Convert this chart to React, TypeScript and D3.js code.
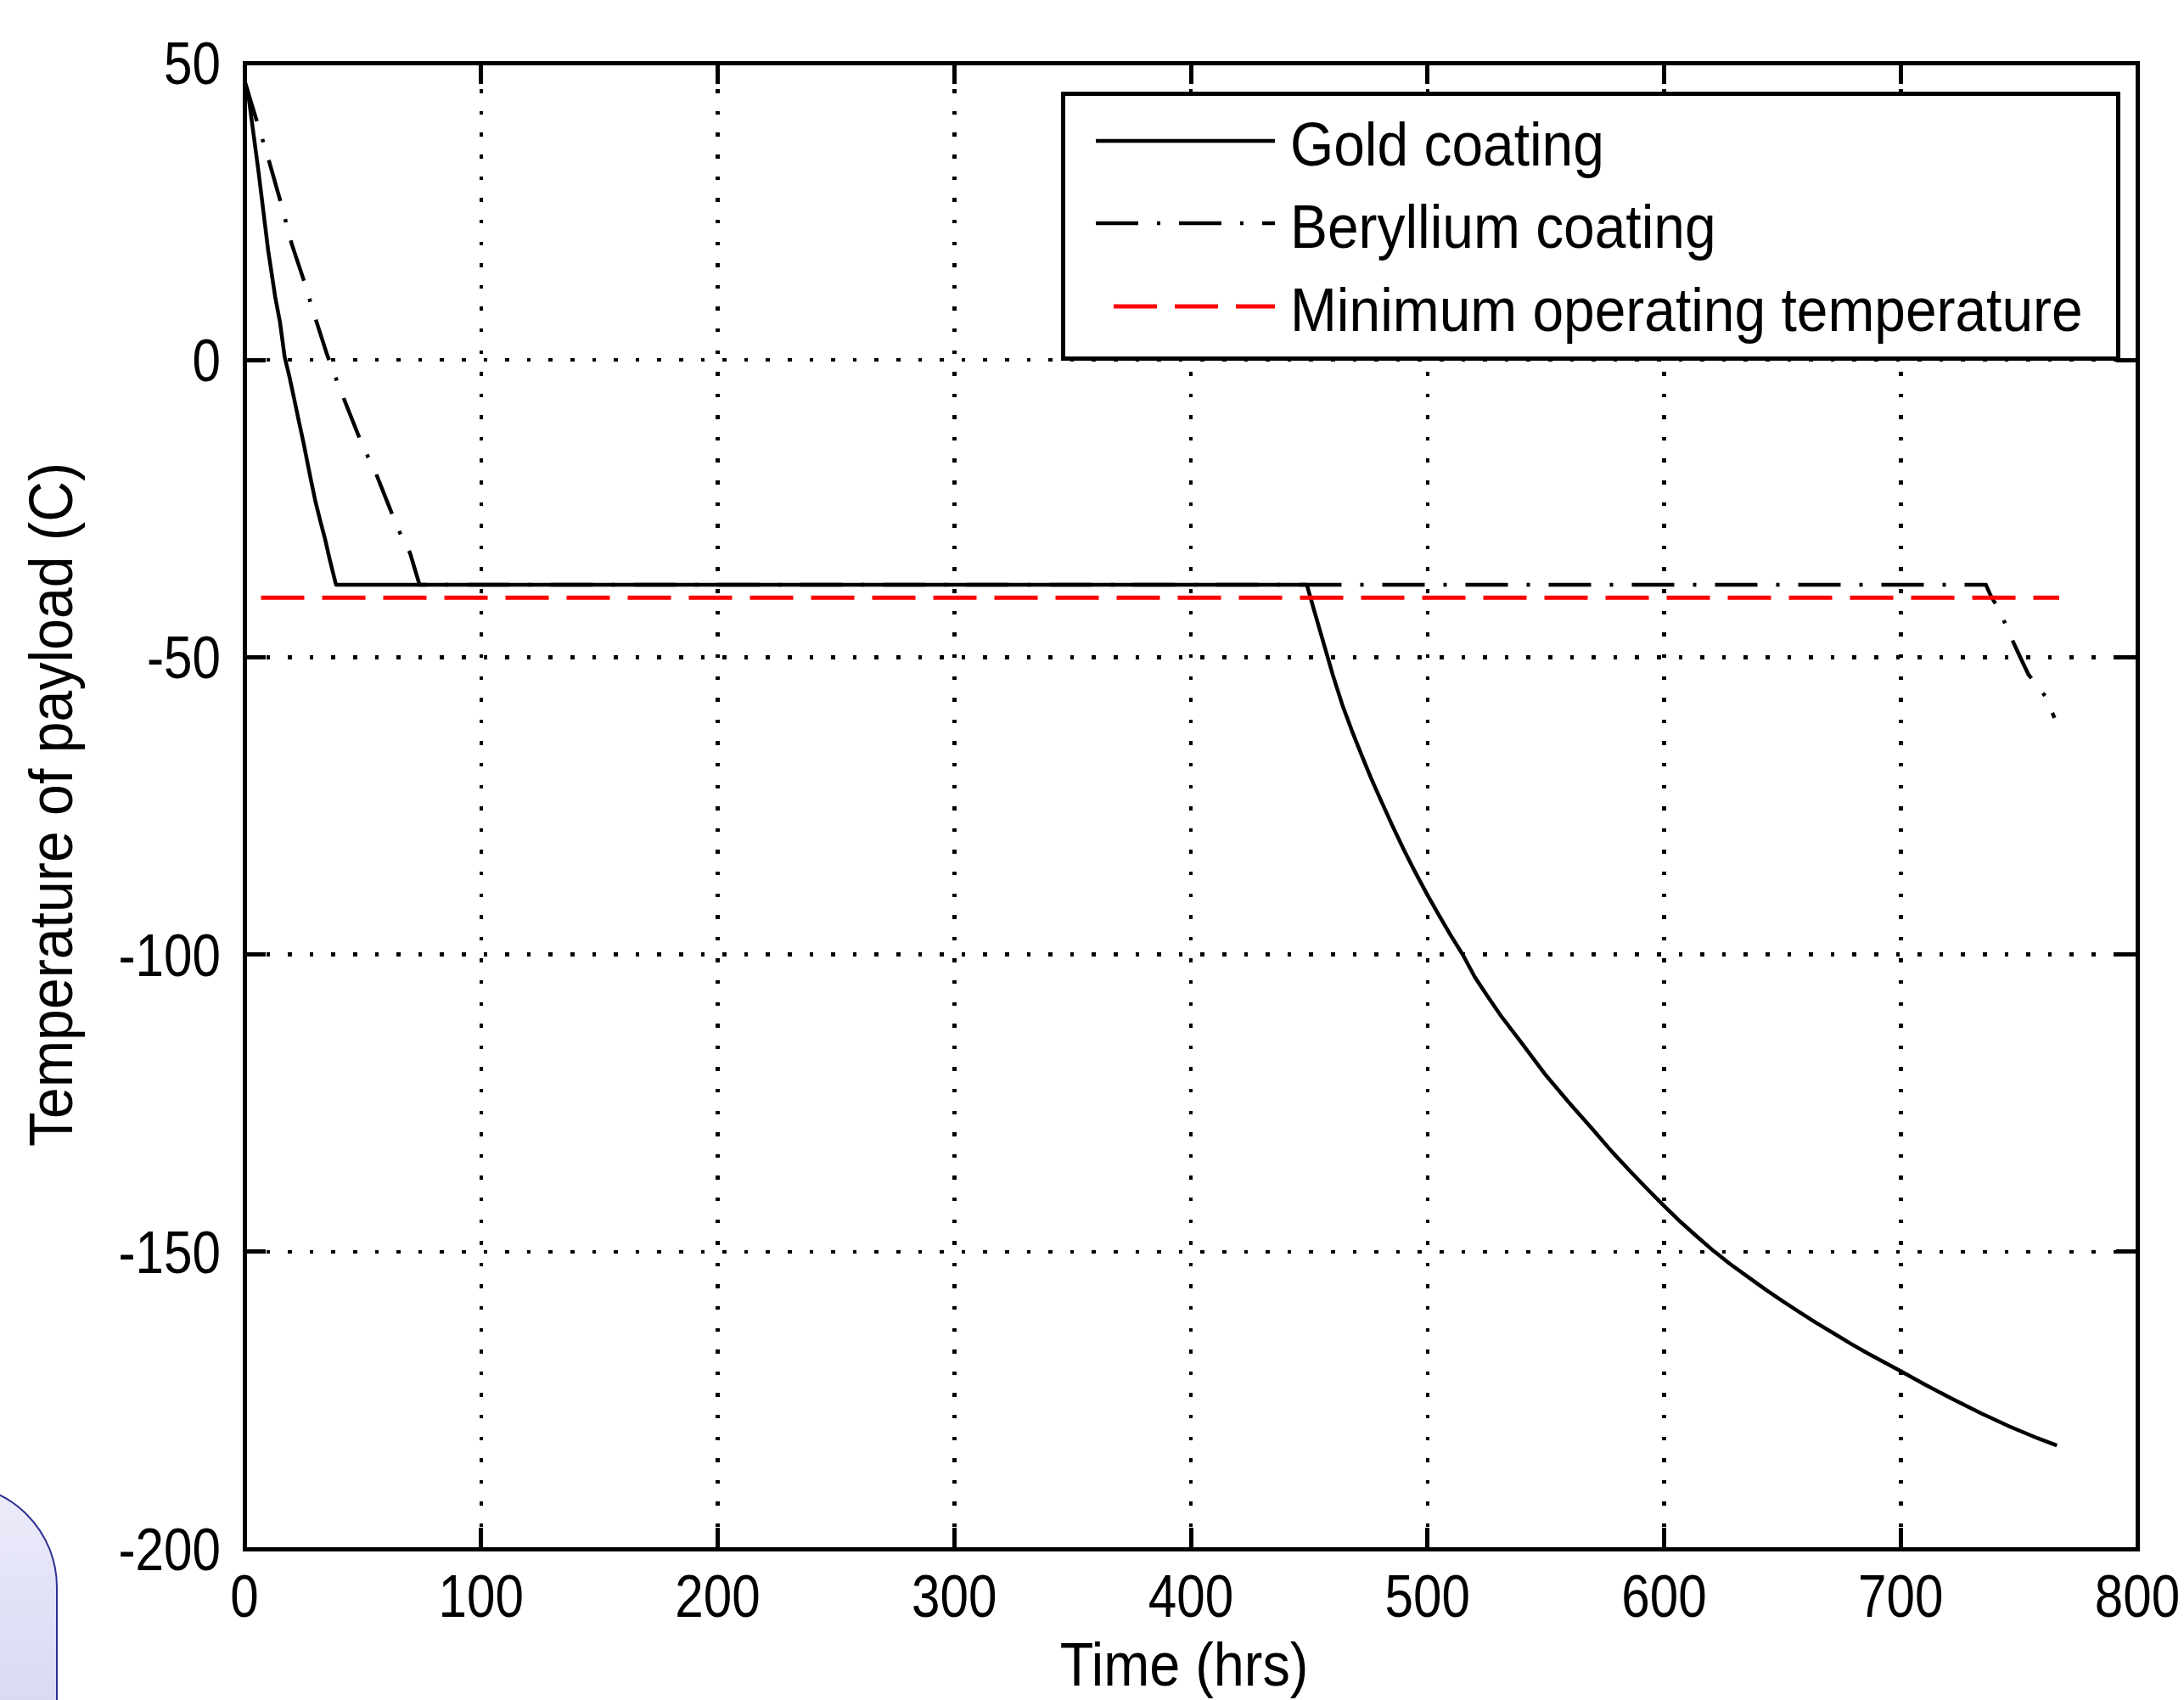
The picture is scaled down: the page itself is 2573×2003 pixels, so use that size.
import * as d3 from "d3";

// Time (hrs) / temperature (C)
const goldTime = [0, 1.5, 4, 6, 8, 10, 13, 15, 17, 19, 21, 23, 25, 28, 30, 32, 34, 36, 38.7,
  449, 452, 456, 460, 464, 468, 472, 476, 480, 485, 490, 495, 500, 505, 510, 515, 520, 525, 531,
  540, 550, 560, 570, 578, 586, 593, 600, 607, 614, 621, 628, 636, 643, 650, 657, 664, 672, 679,
  686, 693, 700, 710, 722, 734, 746, 758, 766];
const goldTemp = [47, 45, 37.5, 31.5, 25, 18.5, 10.6, 6.4, 0.5, -2.8, -6.5, -10.3, -14, -20, -23.8,
  -27, -30, -33.5, -37.8,
  -37.8, -42, -47.5, -53, -58, -62.3, -66.3, -70.2, -73.8, -78.2, -82.4, -86.3, -90, -93.5, -96.9,
  -100.1, -103.8, -106.8, -110.3, -115, -120.3, -125, -129.5, -133.2, -136.6, -139.5, -142.3,
  -145, -147.5, -149.9, -152.1, -154.4, -156.4, -158.3, -160.1, -161.9, -163.8, -165.5, -167.1,
  -168.6, -170.1, -172.3, -174.8, -177.2, -179.4, -181.4, -182.6];

const berylTime = [0, 5, 10, 15, 20, 25, 30, 35, 40, 45, 50, 55, 60, 65, 70, 74,
  736, 738, 742, 746, 751, 754, 761, 765];
const berylTemp = [47, 40.5, 34, 27, 19.5, 13.5, 7, 0.8, -4.5, -9.5, -14.5, -18.5, -23.5, -28.5,
  -32.5, -37.8, -37.8, -39.6, -42.3, -46.1, -50.4, -52.9, -56.5, -60.2];

const minTime = [7, 767];
const minTemp = [-40, -40];

const xTicks = [0, 100, 200, 300, 400, 500, 600, 700, 800];
const yTicks = [-200, -150, -100, -50, 0, 50];

const legendLabels = ["Gold coating", "Beryllium coating", "Minimum operating temperature"];

const FONT = '"Liberation Sans", Arial, sans-serif';

export default function App() {
  const x = d3.scaleLinear().domain([0, 800]).range([288, 2518]);
  const y = d3.scaleLinear().domain([-200, 50]).range([1825, 74]);

  const line = d3.line<[number, number]>()
    .x((d) => x(d[0]))
    .y((d) => y(d[1]));

  const gold = line(goldTime.map((t, i) => [t, goldTemp[i]]));
  const beryl = line(berylTime.map((t, i) => [t, berylTemp[i]]));
  const minLine = line(minTime.map((t, i) => [t, minTemp[i]]));

  const [x0, x1] = x.range();
  const [y0, y1] = y.range(); // y0 bottom, y1 top
  const tickLen = 25;

  const legendRows = [166, 263, 361];
  const styles = [
    { stroke: "#000", dash: "none" },
    { stroke: "#000", dash: "50 22 4 22" },
    { stroke: "#ff0000", dash: "51 21" },
  ];

  return (
    <svg width={2573} height={2003} style={{ position: "absolute", left: 0, top: 0, background: "#fff" }}>
      <defs>
        <linearGradient id="deco" x1="0" y1="0" x2="0" y2="1">
          <stop offset="0" stopColor="#ececfa" />
          <stop offset="1" stopColor="#cfcff1" />
        </linearGradient>
      </defs>
      <rect x={0} y={0} width={2573} height={2003} fill="#fff" />

      {/* slide decoration, bottom left */}
      <rect x={-300} y={1749} width={367} height={400} rx={121} ry={121}
        fill="url(#deco)" stroke="#2e3192" strokeWidth={2} />

      {/* grid */}
      <g stroke="#000" strokeWidth={4.5} strokeDasharray="4.5 21.1" shapeRendering="crispEdges">
        {xTicks.slice(1, -1).map((t) => (
          <line key={"gx" + t} x1={x(t)} x2={x(t)} y1={y0} y2={y1} />
        ))}
        {yTicks.slice(1, -1).map((t) => (
          <line key={"gy" + t} x1={x0} x2={x1} y1={y(t)} y2={y(t)} />
        ))}
      </g>

      {/* series */}
      <path d={gold ?? ""} fill="none" stroke="#000" strokeWidth={4.5} strokeLinejoin="round" />
      <path d={beryl ?? ""} fill="none" stroke="#000" strokeWidth={4.5} strokeDasharray="50 22 4 22" />
      <path d={minLine ?? ""} fill="none" stroke="#ff0000" strokeWidth={5} strokeDasharray="51 21" />

      {/* legend */}
      <rect x={1252} y={110} width={1243} height={312} fill="#fff" stroke="#000" strokeWidth={5}
        shapeRendering="crispEdges" />
      {legendLabels.map((lab, i) => (
        <g key={lab}>
          <line x1={i === 2 ? 1312 : 1291} x2={1502} y1={legendRows[i]} y2={legendRows[i]}
            stroke={styles[i].stroke} strokeWidth={i === 2 ? 5 : 4.5} strokeDasharray={styles[i].dash} />
          <text transform={`translate(1520, ${legendRows[i] + 29}) scale(0.915, 1)`}
            fontFamily={FONT} fontSize={72} fill="#000">{lab}</text>
        </g>
      ))}

      {/* axes box and ticks */}
      <g stroke="#000" strokeWidth={5} shapeRendering="crispEdges">
        <rect x={x0} y={y1} width={x1 - x0} height={y0 - y1} fill="none" />
        {xTicks.map((t) => (
          <g key={"tx" + t}>
            <line x1={x(t)} x2={x(t)} y1={y0} y2={y0 - tickLen} />
            <line x1={x(t)} x2={x(t)} y1={y1} y2={y1 + tickLen} />
          </g>
        ))}
        {yTicks.map((t) => (
          <g key={"ty" + t}>
            <line x1={x0} x2={x0 + tickLen} y1={y(t)} y2={y(t)} />
            <line x1={x1} x2={x1 - tickLen} y1={y(t)} y2={y(t)} />
          </g>
        ))}
      </g>

      {/* tick labels */}
      <g fontFamily={FONT} fontSize={70} fill="#000">
        {xTicks.map((t) => (
          <text key={"lx" + t} transform={`translate(${x(t)}, 1905) scale(0.86, 1)`} textAnchor="middle">
            {t}
          </text>
        ))}
        {yTicks.map((t) => (
          <text key={"ly" + t} transform={`translate(260, ${y(t) + 25}) scale(0.86, 1)`} textAnchor="end">
            {t}
          </text>
        ))}
      </g>

      {/* axis titles */}
      <text transform="translate(1395, 1986) scale(0.9, 1)" textAnchor="middle"
        fontFamily={FONT} fontSize={72} fill="#000">Time (hrs)</text>
      <text transform="translate(85, 948) rotate(-90) scale(0.92, 1)" textAnchor="middle"
        fontFamily={FONT} fontSize={72} fill="#000">Temperature of payload (C)</text>
    </svg>
  );
}
